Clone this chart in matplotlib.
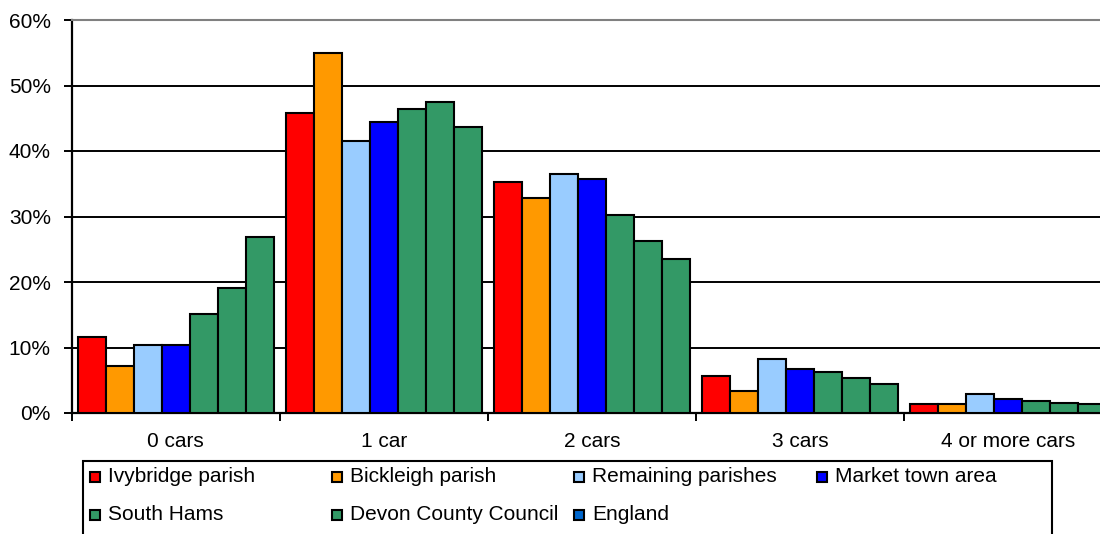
import numpy as np
import matplotlib
matplotlib.use("Agg")
import matplotlib.pyplot as plt
from matplotlib.patches import Rectangle
from matplotlib.ticker import PercentFormatter, FixedLocator

plt.rcParams['font.family'] = ['Liberation Sans', 'DejaVu Sans']

categories = ['0 cars', '1 car', '2 cars', '3 cars', '4 or more cars']
series = ['Ivybridge parish', 'Bickleigh parish', 'Remaining parishes',
          'Market town area', 'South Hams', 'Devon County Council', 'England']

# percent of households
ivybridge = [11.6, 45.8, 35.3, 5.6, 1.4]
bickleigh = [7.1, 54.9, 32.8, 3.4, 1.4]
remaining = [10.4, 41.6, 36.5, 8.2, 2.9]
market_town = [10.4, 44.5, 35.7, 6.7, 2.1]
south_hams = [15.1, 46.4, 30.3, 6.2, 1.9]
devon = [19.1, 47.5, 26.3, 5.3, 1.6]
england = [26.8, 43.6, 23.5, 4.5, 1.3]
values = [ivybridge, bickleigh, remaining, market_town, south_hams, devon, england]

# bar fill vs legend swatch (England swatch differs from its bars in the original)
bar_colors = ['#FF0000', '#FF9900', '#99CCFF', '#0000FF', '#339966', '#339966', '#339966']
legend_colors = ['#FF0000', '#FF9900', '#99CCFF', '#0000FF', '#339966', '#339966', '#0066CC']

W, H = 1100, 534
fig = plt.figure(figsize=(W / 100, H / 100), dpi=100)

def fx(x):
    return x / W

def fy(y):
    return 1 - y / H

# plot area runs past the right edge of the picture, as in the original
ax = fig.add_axes([fx(71.7), fy(413), fx(1112.5 - 71.7), fy(20) - fy(413)])

n = len(series)
bw = 0.1345
x = np.arange(len(categories)) + 0.5
for i, (vals, col) in enumerate(zip(values, bar_colors)):
    ax.bar(x + (i - (n - 1) / 2) * bw, vals, width=bw, color=col,
           edgecolor='black', linewidth=1.5, zorder=3)

ax.set_xlim(0, len(categories))
ax.set_ylim(0, 60)
ax.set_yticks(np.arange(0, 61, 10))
ax.yaxis.set_major_formatter(PercentFormatter(100, decimals=0))
ax.yaxis.grid(True, color='black', linewidth=1.4, zorder=0)
ax.set_axisbelow(True)

ax.xaxis.set_major_locator(FixedLocator(np.arange(0, len(categories) + 1)))
ax.xaxis.set_major_formatter(plt.NullFormatter())
ax.xaxis.set_minor_locator(FixedLocator(x))
ax.set_xticklabels(categories, minor=True)
ax.tick_params(axis='x', which='major', length=6, width=1.4, direction='out')
ax.tick_params(axis='x', which='minor', length=0, pad=14, labelsize=15)
ax.tick_params(axis='y', length=6, width=1.4, direction='out', pad=9, labelsize=15)

for s in ['left', 'bottom']:
    ax.spines[s].set_color('black')
    ax.spines[s].set_linewidth(1.6)
ax.spines['top'].set_color('#808080')
ax.spines['top'].set_linewidth(1.5)
ax.spines['right'].set_visible(False)

# legend: Excel-style box with fixed column widths, cut off at the bottom
fig.add_artist(Rectangle((fx(82.7), fy(545)), fx(1051.7 - 82.7), fy(461) - fy(545),
                         transform=fig.transFigure, facecolor='white',
                         edgecolor='black', linewidth=1.5))
col_x = [90, 332.2, 574.4, 816.6]
row_y = [476.5, 514.7]
sw = 10
for i, (name, col) in enumerate(zip(series, legend_colors)):
    cx = col_x[i % 4]
    cy = row_y[i // 4]
    fig.add_artist(Rectangle((fx(cx), fy(cy + sw / 2)), fx(sw), fy(cy - sw / 2) - fy(cy + sw / 2),
                             transform=fig.transFigure, facecolor=col,
                             edgecolor='black', linewidth=1.5))
    fig.text(fx(cx + sw + 8), fy(cy), name, fontsize=15, va='center', ha='left')

fig.savefig('out.png', dpi=100)
